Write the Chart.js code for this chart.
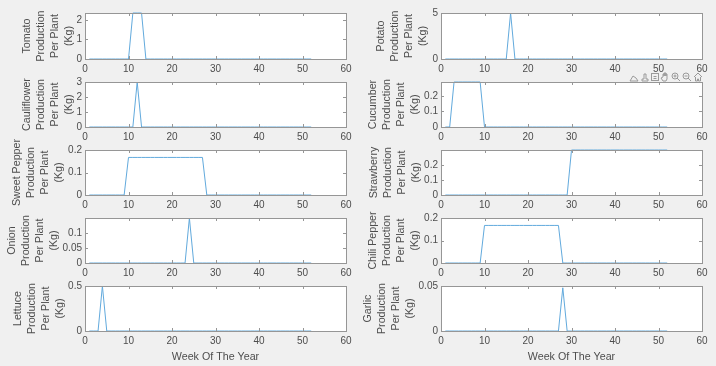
<!doctype html>
<html lang="en">

<head>
    <meta charset="utf-8">
    <title>Production Per Plant</title>
    <script src="https://cdn.jsdelivr.net/npm/chart.js"></script>
    <style>
        body { margin: 0; background: #f0f0f0; width: 716px; height: 366px; overflow: hidden; position: relative; }
        canvas { position: absolute; }
        svg { position: absolute; left: 628px; top: 71px; }
    </style>
</head>

<body>
    <script>
        // data
        const weeks = [1, 2, 3, 4, 5, 6, 7, 8, 9, 10, 11, 12, 13, 14, 15, 16, 17, 18, 19, 20, 21, 22, 23, 24, 25, 26, 27, 28, 29, 30, 31, 32, 33, 34, 35, 36, 37, 38, 39, 40, 41, 42, 43, 44, 45, 46, 47, 48, 49, 50, 51, 52];
        const xTicks = [0, 10, 20, 30, 40, 50, 60];

        const tomato = [0, 0, 0, 0, 0, 0, 0, 0, 0, 0, 2.35, 2.35, 2.35, 0, 0, 0, 0, 0, 0, 0, 0, 0, 0, 0, 0, 0, 0, 0, 0, 0, 0, 0, 0, 0, 0, 0, 0, 0, 0, 0, 0, 0, 0, 0, 0, 0, 0, 0, 0, 0, 0, 0];
        const potato = [0, 0, 0, 0, 0, 0, 0, 0, 0, 0, 0, 0, 0, 0, 0, 5, 0, 0, 0, 0, 0, 0, 0, 0, 0, 0, 0, 0, 0, 0, 0, 0, 0, 0, 0, 0, 0, 0, 0, 0, 0, 0, 0, 0, 0, 0, 0, 0, 0, 0, 0, 0];
        const cauliflower = [0, 0, 0, 0, 0, 0, 0, 0, 0, 0, 0, 3, 0, 0, 0, 0, 0, 0, 0, 0, 0, 0, 0, 0, 0, 0, 0, 0, 0, 0, 0, 0, 0, 0, 0, 0, 0, 0, 0, 0, 0, 0, 0, 0, 0, 0, 0, 0, 0, 0, 0, 0];
        const cucumber = [0, 0, 0.29, 0.29, 0.29, 0.29, 0.29, 0.29, 0.29, 0, 0, 0, 0, 0, 0, 0, 0, 0, 0, 0, 0, 0, 0, 0, 0, 0, 0, 0, 0, 0, 0, 0, 0, 0, 0, 0, 0, 0, 0, 0, 0, 0, 0, 0, 0, 0, 0, 0, 0, 0, 0, 0];
        const sweetPepper = [0, 0, 0, 0, 0, 0, 0, 0, 0, 0.167, 0.167, 0.167, 0.167, 0.167, 0.167, 0.167, 0.167, 0.167, 0.167, 0.167, 0.167, 0.167, 0.167, 0.167, 0.167, 0.167, 0.167, 0, 0, 0, 0, 0, 0, 0, 0, 0, 0, 0, 0, 0, 0, 0, 0, 0, 0, 0, 0, 0, 0, 0, 0, 0];
        const strawberry = [0, 0, 0, 0, 0, 0, 0, 0, 0, 0, 0, 0, 0, 0, 0, 0, 0, 0, 0, 0, 0, 0, 0, 0, 0, 0, 0, 0, 0, 0.3, 0.3, 0.3, 0.3, 0.3, 0.3, 0.3, 0.3, 0.3, 0.3, 0.3, 0.3, 0.3, 0.3, 0.3, 0.3, 0.3, 0.3, 0.3, 0.3, 0.3, 0.3, 0.3];
        const onion = [0, 0, 0, 0, 0, 0, 0, 0, 0, 0, 0, 0, 0, 0, 0, 0, 0, 0, 0, 0, 0, 0, 0, 0.15, 0, 0, 0, 0, 0, 0, 0, 0, 0, 0, 0, 0, 0, 0, 0, 0, 0, 0, 0, 0, 0, 0, 0, 0, 0, 0, 0, 0];
        const chiliPepper = [0, 0, 0, 0, 0, 0, 0, 0, 0, 0.167, 0.167, 0.167, 0.167, 0.167, 0.167, 0.167, 0.167, 0.167, 0.167, 0.167, 0.167, 0.167, 0.167, 0.167, 0.167, 0.167, 0.167, 0, 0, 0, 0, 0, 0, 0, 0, 0, 0, 0, 0, 0, 0, 0, 0, 0, 0, 0, 0, 0, 0, 0, 0, 0];
        const lettuce = [0, 0, 0, 0.5, 0, 0, 0, 0, 0, 0, 0, 0, 0, 0, 0, 0, 0, 0, 0, 0, 0, 0, 0, 0, 0, 0, 0, 0, 0, 0, 0, 0, 0, 0, 0, 0, 0, 0, 0, 0, 0, 0, 0, 0, 0, 0, 0, 0, 0, 0, 0, 0];
        const garlic = [0, 0, 0, 0, 0, 0, 0, 0, 0, 0, 0, 0, 0, 0, 0, 0, 0, 0, 0, 0, 0, 0, 0, 0, 0, 0, 0, 0.048, 0, 0, 0, 0, 0, 0, 0, 0, 0, 0, 0, 0, 0, 0, 0, 0, 0, 0, 0, 0, 0, 0, 0, 0];

        // panel layout: name, values, y max, y ticks, row, column, x of first title line
        const panels = [
            ['Tomato', tomato, 2.35, [0, 1, 2], 0, 0, 27],
            ['Potato', potato, 5, [0, 5], 0, 1, 23],
            ['Cauliflower', cauliflower, 3, [0, 1, 2, 3], 1, 0, 27],
            ['Cucumber', cucumber, 0.29, [0, 0.1, 0.2], 1, 1, 15],
            ['Sweet Pepper', sweetPepper, 0.2, [0, 0.1, 0.2], 2, 0, 17],
            ['Strawberry', strawberry, 0.3, [0, 0.1, 0.2], 2, 1, 16],
            ['Onion', onion, 0.15, [0, 0.05, 0.1], 3, 0, 12],
            ['Chili Pepper', chiliPepper, 0.2, [0, 0.1, 0.2], 3, 1, 15],
            ['Lettuce', lettuce, 0.5, [0, 0.5], 4, 0, 18],
            ['Garlic', garlic, 0.05, [0, 0.05], 4, 1, 10]
        ];
        const rows = [[13, 59], [82, 127], [150, 195], [218, 263], [286, 331]];
        const columns = [{ left: 0, plotLeft: 85, plotRight: 346 }, { left: 358, plotLeft: 83, plotRight: 344 }];
        const canvasWidth = 358;
        const topMargin = 13;
        const bottomMargin = 35;

        const ink = '#4d4d4d';
        const frame = '#969696';
        const lineColor = '#62aadd';

        // white plot area, box and inward ticks on all four sides
        const matlabBox = {
            id: 'matlabBox',
            beforeDraw(chart) {
                const a = chart.chartArea;
                chart.ctx.fillStyle = '#fff';
                chart.ctx.fillRect(a.left, a.top, a.width, a.height);
            },
            afterDraw(chart) {
                const { ctx, chartArea: a, scales } = chart;
                ctx.save();
                ctx.strokeStyle = frame;
                ctx.lineWidth = 1;
                ctx.strokeRect(a.left + 0.5, a.top + 0.5, a.width, a.height);
                ctx.beginPath();
                scales.x.ticks.forEach(t => {
                    const px = Math.round(scales.x.getPixelForValue(t.value)) + 0.5;
                    ctx.moveTo(px, a.top);
                    ctx.lineTo(px, a.top + 3);
                    ctx.moveTo(px, a.bottom);
                    ctx.lineTo(px, a.bottom - 3);
                });
                scales.y.ticks.forEach(t => {
                    const py = Math.round(scales.y.getPixelForValue(t.value)) + 0.5;
                    ctx.moveTo(a.left, py);
                    ctx.lineTo(a.left + 3, py);
                    ctx.moveTo(a.right, py);
                    ctx.lineTo(a.right - 3, py);
                });
                ctx.stroke();
                ctx.restore();
            }
        };

        function drawPanel([name, values, yMax, yTicks, row, col, titleX]) {
            const column = columns[col];
            const [plotTop, plotBottom] = rows[row];
            const canvas = document.createElement('canvas');
            canvas.width = canvasWidth;
            canvas.height = topMargin + (plotBottom - plotTop) + bottomMargin;
            canvas.style.left = column.left + 'px';
            canvas.style.top = (plotTop - topMargin) + 'px';
            document.body.appendChild(canvas);

            new Chart(canvas, {
                type: 'line',
                data: {
                    datasets: [{
                        data: weeks.map((w, i) => ({ x: w, y: values[i] })),
                        borderColor: lineColor,
                        borderWidth: 1,
                        pointRadius: 0,
                        tension: 0,
                        clip: 1
                    }]
                },
                options: {
                    responsive: false,
                    animation: false,
                    layout: { padding: { top: topMargin, bottom: 0, left: 0, right: canvasWidth - column.plotRight } },
                    plugins: { legend: { display: false }, tooltip: { enabled: false } },
                    scales: {
                        x: {
                            type: 'linear',
                            min: 0,
                            max: 60,
                            grid: { display: false, drawTicks: false },
                            border: { display: false },
                            afterBuildTicks: s => { s.ticks = xTicks.map(v => ({ value: v })); },
                            afterFit: s => { s.height = bottomMargin; s.paddingLeft = 0; s.paddingRight = 0; },
                            ticks: {
                                autoSkip: false,
                                maxRotation: 0,
                                padding: 4,
                                color: ink,
                                font: { family: 'Liberation Sans', size: 10 },
                                callback: v => String(v)
                            },
                            title: {
                                display: row === 4,
                                text: 'Week Of The Year',
                                color: ink,
                                padding: { top: 0, bottom: 2 },
                                font: { family: 'Liberation Sans', size: 10.7, lineHeight: 1.3 }
                            }
                        },
                        y: {
                            min: 0,
                            max: yMax,
                            grid: { display: false, drawTicks: false },
                            border: { display: false },
                            afterBuildTicks: s => { s.ticks = yTicks.map(v => ({ value: v })); },
                            afterFit: s => { s.width = column.plotLeft; s.paddingTop = 0; s.paddingBottom = 0; },
                            ticks: {
                                autoSkip: false,
                                padding: 3,
                                color: ink,
                                font: { family: 'Liberation Sans', size: 10 },
                                callback: v => String(v)
                            },
                            title: {
                                display: true,
                                text: [name, 'Production', 'Per Plant', '(Kg)'],
                                color: ink,
                                padding: { top: titleX - 7, bottom: 0 },
                                font: { family: 'Liberation Sans', size: 10.7, lineHeight: 1.31 }
                            }
                        }
                    }
                },
                plugins: [matlabBox]
            });
        }

        panels.forEach(drawPanel);
    </script>

    <!-- axes toolbar icons -->
    <svg width="76" height="12" viewBox="0 0 76 12" fill="none" stroke="#9a9a9a" stroke-width="1">
        <path d="M2 10l3-5 3 2 2 3z" />
        <path d="M14 10h6v-2h-2v-5h-2v5h-2z" />
        <rect x="23.5" y="2.5" width="7" height="7" />
        <path d="M25.5 5.5h3M25.5 7.5h3" />
        <path d="M35 6v-3h1v2-3h1v3-3h1v3-2h1v5l-1 2h-3l-2-3z" />
        <circle cx="47" cy="5" r="3" />
        <path d="M49 7l3 3M45.5 5h3M47 3.5v3" />
        <circle cx="58" cy="5" r="3" />
        <path d="M60 7l3 3M56.5 5h3" />
        <path d="M66 6l4-4 4 4M67.5 6v4h2v-2h1v2h2v-4" />
    </svg>
</body>

</html>
